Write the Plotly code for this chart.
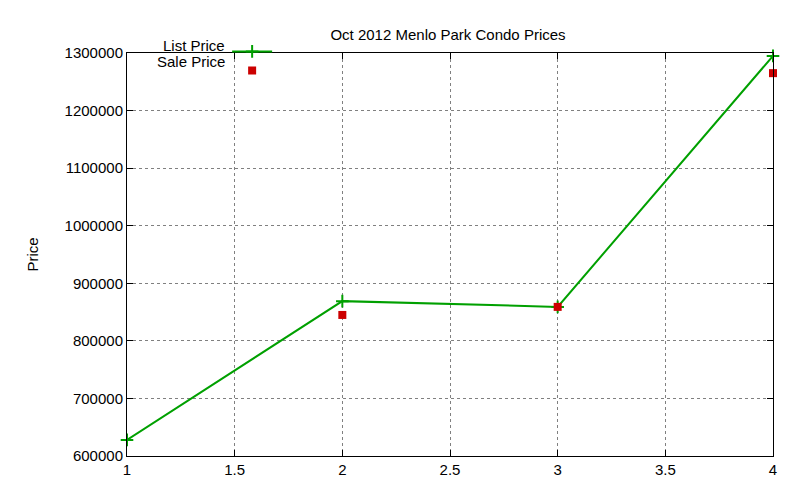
import plotly.graph_objects as go

units = [1, 2, 3, 4]
list_price = [628000, 869000, 859000, 1295000]
sale_price = [599000, 845000, 859000, 1265000]
x_ticks = [1, 1.5, 2, 2.5, 3, 3.5, 4]
y_ticks = [600000, 700000, 800000, 900000, 1000000, 1100000, 1200000, 1300000]

fig = go.Figure()
fig.add_trace(go.Scatter(x=units, y=list_price, mode="lines+markers", name=" ", cliponaxis=False,
                         line=dict(color="#00a000", width=2),
                         marker=dict(symbol="cross-thin", size=9, line=dict(color="#00a000", width=2))))
fig.add_trace(go.Scatter(x=units, y=sale_price, mode="markers", name=" ", cliponaxis=False,
                         marker=dict(symbol="square", size=8, color="#cc0000")))

axis = dict(showline=True, linecolor="black", linewidth=1, mirror="ticks", ticks="inside",
            ticklen=6, tickcolor="black", showgrid=True, gridcolor="#808080", griddash="dot",
            zeroline=False, automargin=False, tickfont=dict(size=15, color="black"))
fig.update_xaxes(range=[1, 4], tickvals=x_ticks, ticktext=[str(v) for v in x_ticks], **axis)
fig.update_yaxes(range=[600000, 1300000], tickvals=y_ticks, ticktext=[str(v) for v in y_ticks],
                 title=dict(text="Price", font=dict(size=15, color="black"), standoff=22), **axis)

fig.add_annotation(x=0.155, y=1.018, xref="paper", yref="paper", text="List Price", showarrow=False,
                   xanchor="right", yanchor="middle", font=dict(size=15, color="black"))
fig.add_annotation(x=0.155, y=0.978, xref="paper", yref="paper", text="Sale Price", showarrow=False,
                   xanchor="right", yanchor="middle", font=dict(size=15, color="black"))

fig.update_layout(
    width=800, height=480,
    font=dict(family="Liberation Sans, Arial", size=15, color="black"),
    title=dict(text="Oct 2012 Menlo Park Condo Prices", x=0.55, xanchor="center", y=0.955,
               font=dict(size=15, color="black")),
    margin=dict(l=119, r=35, t=45, b=32),
    plot_bgcolor="white", paper_bgcolor="white",
    showlegend=True,
    legend=dict(x=0.155, y=1.04, xanchor="left", yanchor="top", bgcolor="rgba(0,0,0,0)",
                tracegroupgap=0, itemwidth=40, font=dict(size=9)),
)
fig.write_html("out.html")
